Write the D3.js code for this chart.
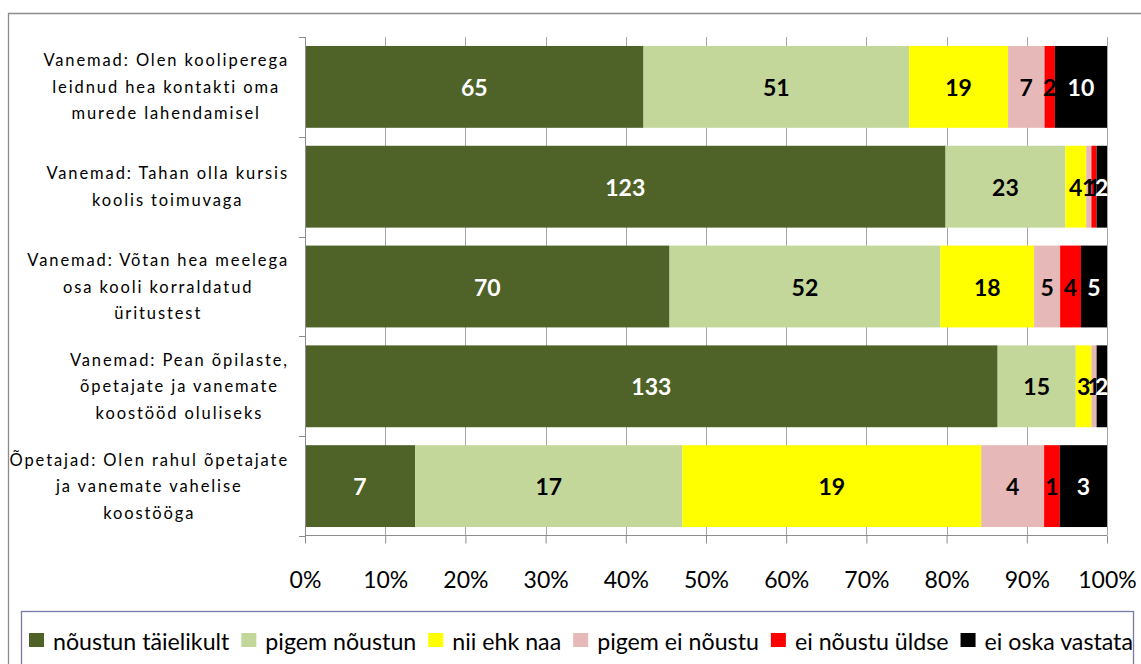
<!DOCTYPE html>
<html><head><meta charset="utf-8">
<script src="https://cdn.jsdelivr.net/npm/d3@7"></script>
<style>
html,body{margin:0;padding:0;background:#fff;}
svg{display:block;}
text{font-family:Lato,"Open Sans",sans-serif;}
</style></head>
<body>
<svg id="chart" width="1141" height="664"></svg>
<script>
// ---- data ----
const categories = [
  "Vanemad: Olen kooliperega leidnud hea kontakti oma murede lahendamisel",
  "Vanemad: Tahan olla kursis koolis toimuvaga",
  "Vanemad: Võtan hea meelega osa kooli korraldatud üritustest",
  "Vanemad: Pean õpilaste, õpetajate ja vanemate koostööd oluliseks",
  "Õpetajad: Olen rahul õpetajate ja vanemate vahelise koostööga"
];
const categoryLines = [
  ["Vanemad: Olen kooliperega","leidnud hea kontakti oma","murede lahendamisel"],
  ["Vanemad: Tahan olla kursis","koolis toimuvaga"],
  ["Vanemad: Võtan hea meelega","osa kooli korraldatud","üritustest"],
  ["Vanemad: Pean õpilaste,","õpetajate ja vanemate","koostööd oluliseks"],
  ["Õpetajad: Olen rahul õpetajate","ja vanemate vahelise","koostööga"]
];
const seriesNames = ["nõustun täielikult","pigem nõustun","nii ehk naa","pigem ei nõustu","ei nõustu üldse","ei oska vastata"];
const noustunTaielikult = [65,123,70,133,7];
const pigemNoustun      = [51,23,52,15,17];
const niiEhkNaa         = [19,4,18,3,19];
const pigemEiNoustu     = [7,1,5,1,4];
const eiNoustuUldse     = [2,1,4,0,1];
const eiOskaVastata     = [10,2,5,2,3];
const tickLabels = ["0%","10%","20%","30%","40%","50%","60%","70%","80%","90%","100%"];

const colors = ["#4f6228","#c4d79b","#ffff00","#e6b9b8","#ff0000","#000000"];
const labelColors = ["#fff","#000","#000","#000","#000","#fff"];

const seriesValues = [noustunTaielikult,pigemNoustun,niiEhkNaa,pigemEiNoustu,eiNoustuUldse,eiOskaVastata];
const rows = categories.map((c,i)=>{
  const o={category:c};
  seriesNames.forEach((s,j)=>o[s]=seriesValues[j][i]);
  return o;
});

const svg = d3.select("#chart");

// outer frame
svg.append("path").attr("d","M8.5,664 L8.5,13.5 L1141,13.5")
  .attr("fill","none").attr("stroke","#8c8c8c").attr("stroke-width",1.3);

const x = d3.scaleLinear().domain([0,1]).range([305,1107]);
const y = d3.scaleBand().domain(categories).range([37,536]).paddingInner(0.18).paddingOuter(0.09);
const yBound = d3.scaleBand().domain(categories).range([37,536]);

// gridlines
svg.append("g").selectAll("line").data(d3.range(1,11).map(d=>d/10)).join("line")
  .attr("x1",d=>Math.round(x(d))+0.5).attr("x2",d=>Math.round(x(d))+0.5)
  .attr("y1",37).attr("y2",535).attr("stroke","#a6a6a6").attr("stroke-width",1);

// stacked bars
const stack = d3.stack().keys(seriesNames).offset(d3.stackOffsetExpand);
const stacked = stack(rows);
const gBars = svg.append("g");
stacked.forEach((layer,j)=>{
  gBars.append("g").attr("fill",colors[j]).selectAll("rect").data(layer).join("rect")
    .attr("x",d=>x(d[0])).attr("width",d=>x(d[1])-x(d[0]))
    .attr("y",d=>y(d.data.category)).attr("height",y.bandwidth());
});
// value labels
stacked.forEach((layer,j)=>{
  gBars.append("g").selectAll("text").data(layer.filter(d=>d.data[seriesNames[j]]>0)).join("text")
    .attr("x",d=>x((d[0]+d[1])/2)).attr("y",d=>y(d.data.category)+y.bandwidth()/2)
    .attr("text-anchor","middle").attr("dominant-baseline","central")
    .attr("font-size",23).attr("font-weight","bold").attr("fill",labelColors[j])
    .text(d=>d.data[seriesNames[j]]);
});

// x axis
const xAxis = d3.axisBottom(x).tickValues(d3.range(0,11).map(d=>d/10))
  .tickFormat((d,i)=>tickLabels[i]).tickSize(8).tickPadding(28);
const gx = svg.append("g").attr("transform","translate(0,535.5)").call(xAxis);
gx.select(".domain").attr("stroke","#8c8c8c").attr("d","M305,0H1107");
gx.selectAll(".tick line").attr("stroke","#8c8c8c");
gx.selectAll(".tick text").attr("font-size",23).attr("fill","#000").attr("font-family","Lato");

// y axis line and ticks at band boundaries
svg.append("line").attr("x1",305.5).attr("x2",305.5).attr("y1",37).attr("y2",536)
  .attr("stroke","#8c8c8c");
const bounds = categories.map(c=>yBound(c)).concat([536]);
svg.append("g").selectAll("line").data(bounds).join("line")
  .attr("x1",299).attr("x2",305.5).attr("y1",d=>Math.round(d)+0.5).attr("y2",d=>Math.round(d)+0.5)
  .attr("stroke","#8c8c8c");

// category labels (block right-aligned, lines centered)
const gLab = svg.append("g");
categories.forEach((c,i)=>{
  const lines = categoryLines[i];
  const g = gLab.append("g");
  const lh = 26.5;
  const cy = yBound(c)+yBound.bandwidth()/2;
  const ts = lines.map((l,k)=>g.append("text").attr("font-size",16.5).attr("letter-spacing",1.9)
    .attr("fill","#000").attr("text-anchor","middle").attr("dominant-baseline","central")
    .attr("y",cy+(k-(lines.length-1)/2)*lh).text(l));
  const w = d3.max(ts,t=>t.node().getComputedTextLength());
  ts.forEach(t=>t.attr("x",289-w/2));
});

// legend
svg.append("rect").attr("x",21.5).attr("y",611.5).attr("width",1112).attr("height",80)
  .attr("fill","none").attr("stroke","#7a7aa8").attr("stroke-width",1.3);
const gLeg = svg.append("g");
let cx = 29;
seriesNames.forEach((s,j)=>{
  gLeg.append("rect").attr("x",cx).attr("y",633).attr("width",15).attr("height",14).attr("fill",colors[j]);
  const t = gLeg.append("text").attr("x",cx+24).attr("y",641).attr("dominant-baseline","central")
    .attr("font-size",23.2).attr("fill","#000").text(s);
  cx = cx+24+t.node().getComputedTextLength()+12;
});
</script>
</body></html>
